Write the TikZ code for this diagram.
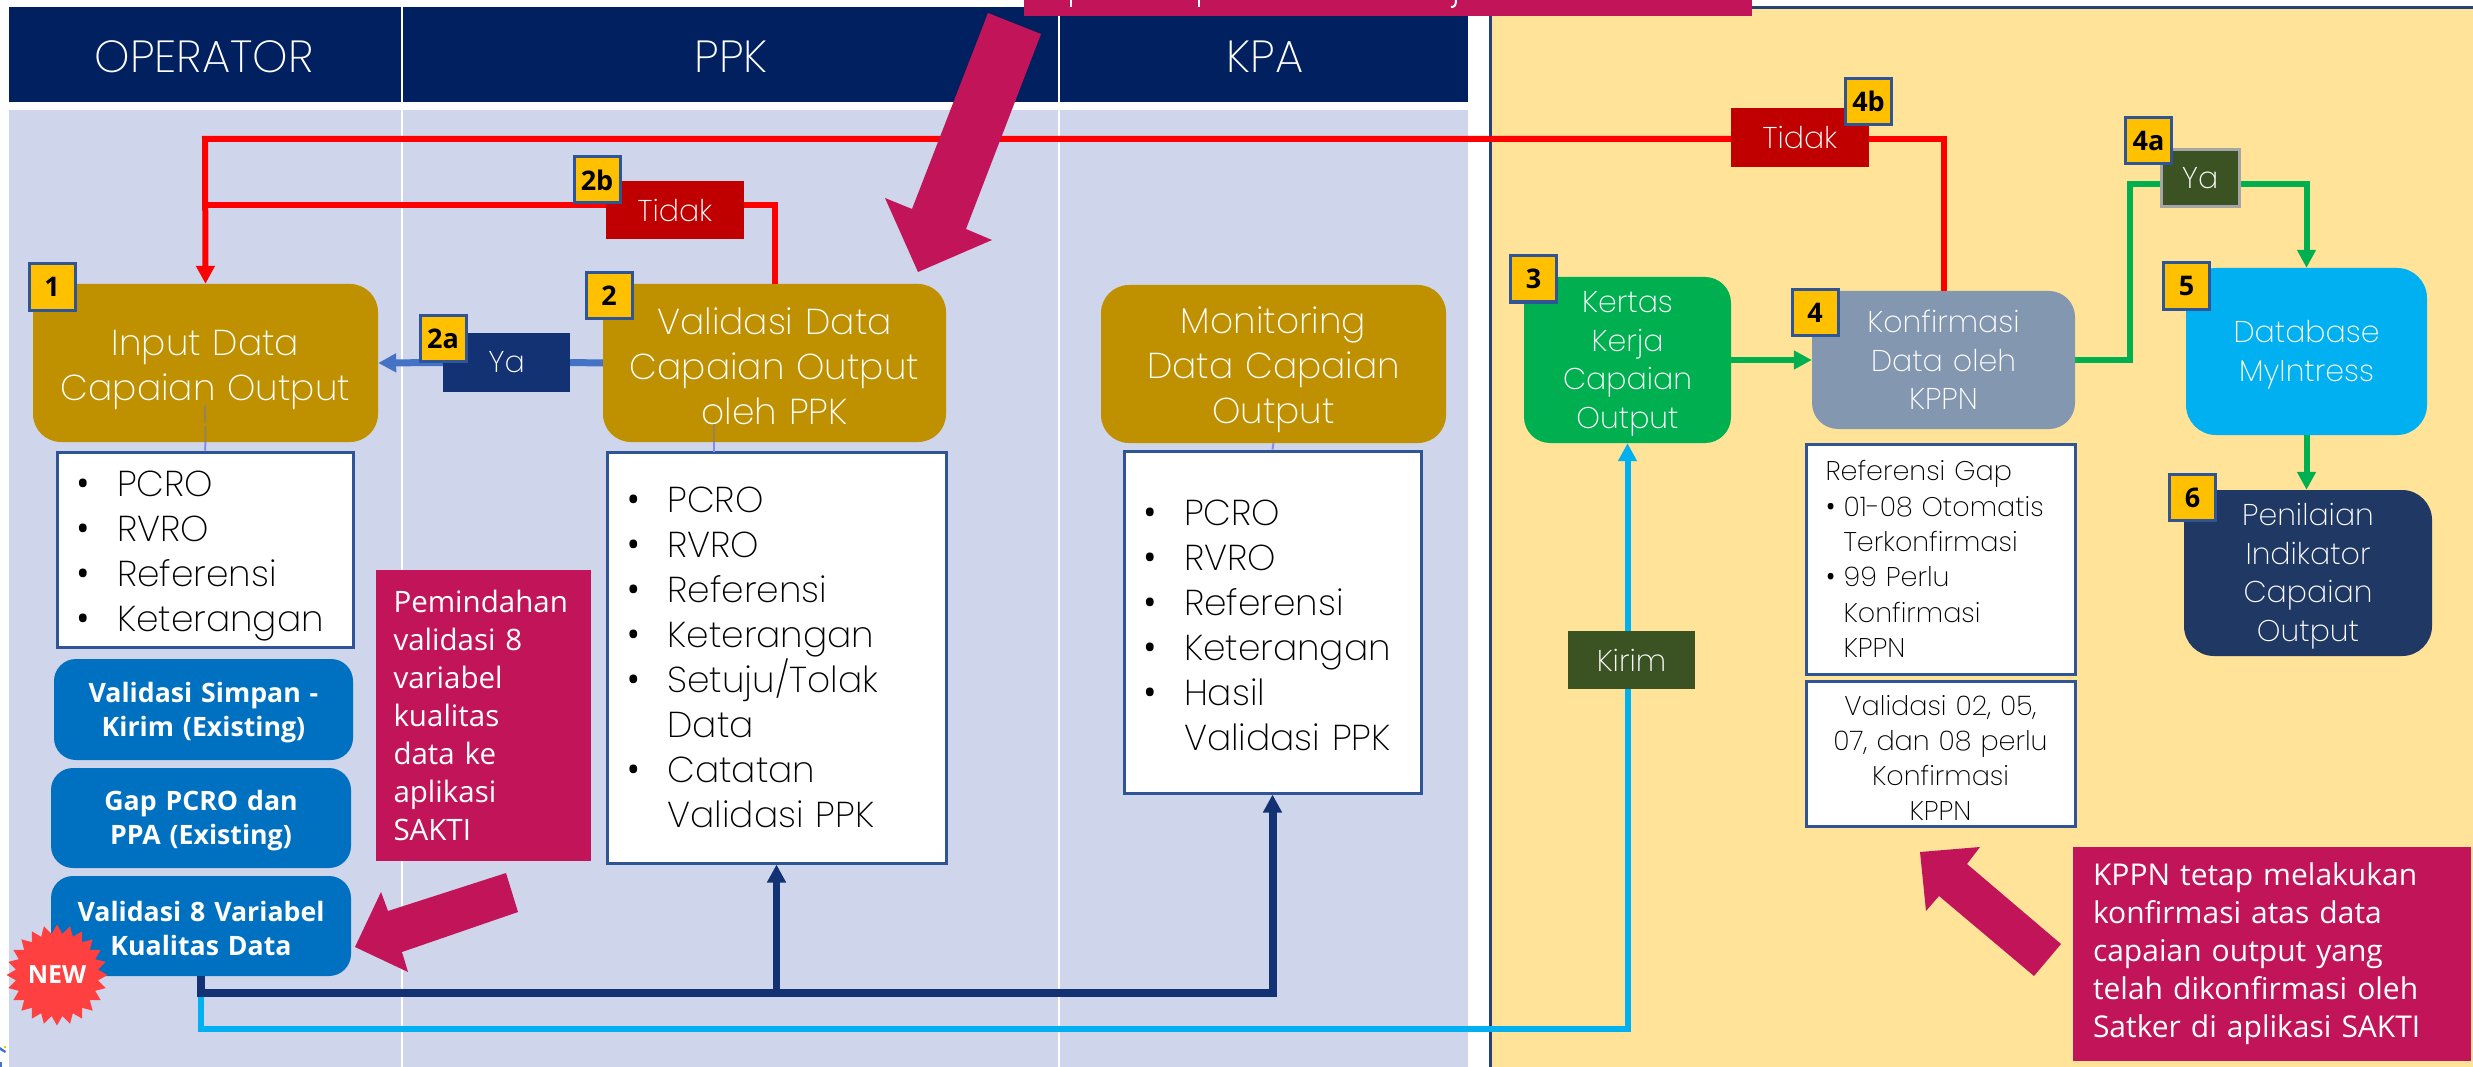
\documentclass[tikz,border=0pt]{standalone}
\usepackage{fontspec}
\usepackage{tikz}
\usetikzlibrary{arrows.meta,shapes.geometric}
\newfontfamily\lightfont{Poppins ExtraLight}
\newfontfamily\notefont{Open Sans}
\newcommand{\fsz}[2]{\fontsize{#1}{#2}\selectfont}
\newcommand{\litem}[2][41pt]{\makebox[#1][l]{\notefont\textbullet}#2}
\newcommand{\lcont}[2][41pt]{\hspace*{#1}#2}
\definecolor{headblue}{HTML}{002060}
\definecolor{lanepale}{HTML}{CFD5EA}
\definecolor{lanesand}{HTML}{FEE398}
\definecolor{goldfill}{HTML}{BF9000}
\definecolor{navyline}{HTML}{123274}
\definecolor{navyfill}{HTML}{1F3864}
\definecolor{notered}{HTML}{C21559}
\definecolor{framblue}{HTML}{2F5597}
\definecolor{cobalt}{HTML}{0070C0}
\definecolor{skyfill}{HTML}{00B0F0}
\definecolor{leaf}{HTML}{00B050}
\definecolor{moss}{HTML}{3B5323}
\definecolor{steel}{HTML}{8497B0}
\definecolor{amber}{HTML}{FFC000}
\definecolor{yaline}{HTML}{4472C4}
\definecolor{deepred}{HTML}{C00000}
\tikzset{
  flowbox/.style={rounded corners=28pt,inner sep=0pt,text=white,align=center,text width=330,font=\lightfont\fsz{36}{45}},
  smallflow/.style={flowbox,text width=200,font=\lightfont\fsz{30}{38.5}},
  dropped/.style={execute at begin node={\rule{0pt}{#1}}},
  listbox/.style={draw=framblue,line width=3pt,fill=white,inner sep=0pt,align=left,font=\lightfont\fsz{36}{45}},
  reflist/.style={listbox,font=\lightfont\fsz{27}{35.3}},
  keybox/.style={rounded corners=22pt,fill=cobalt,inner sep=0pt,text=white,align=center,text width=285,font=\notefont\bfseries\fsz{26.7}{34}},
  tagbox/.style={inner sep=0pt,text=white,font=\lightfont\fsz{30}{38}},
  badge/.style={draw=framblue,line width=3pt,fill=amber,inner sep=0pt,minimum width=46,minimum height=46,font=\notefont\bfseries\fsz{27}{30}},
  notebox/.style={fill=notered,inner sep=0pt,text=white,align=left,font=\notefont\fsz{29.5}{38}},
  headtext/.style={inner sep=0pt,text=white,font=\lightfont\fsz{45}{48}},
  redline/.style={draw=red,line width=6pt},
  greenline/.style={draw=leaf,line width=6pt},
  tip/.style={-{Triangle[length=18pt,width=18pt]}}
}
\begin{document}
\begin{tikzpicture}[x=1pt,y=-1pt]
  \useasboundingbox (0,0) rectangle (2473,1067);
  \fill[white] (0,0) rectangle (2473,1067);

  \fill[headblue] (9,7) rectangle (1468,102);
  \fill[lanepale] (9,110) rectangle (1468,1067);
  \fill[lanesand] (1490,8) rectangle (2473,1067);
  \draw[headblue!85!white,line width=3pt] (1490,1067) -- (1490,8) -- (2473,8);
  \draw[white,line width=2pt] (402,7) -- (402,102);
  \draw[white,line width=2pt] (402,110) -- (402,1067);
  \draw[white,line width=2pt] (1059,7) -- (1059,102);
  \draw[white,line width=2pt] (1059,110) -- (1059,1067);
  \fill[yaline] (0,1047) -- (6,1051) -- (5,1053) -- (0,1050) -- cycle;
  \fill[amber] (4,1046) rectangle (6,1048);
  \fill[yaline] (0,1062) rectangle (2,1067);
  \node[headtext] (operator) at (204,57) {OPERATOR};
  \node[headtext] (ppk) at (731,57) {PPK};
  \node[headtext] (kpa) at (1265,57) {KPA};

  % lajur kiri
  \node[flowbox,dropped=39pt,fill=goldfill,minimum width=345,minimum height=158] (input) at (205.5,363) {Input Data\\Capaian Output};
  \node[flowbox,dropped=33pt,fill=goldfill,minimum width=343,minimum height=158] (valid) at (774.5,363) {Validasi Data\\Capaian Output\\oleh PPK};
  \node[flowbox,dropped=39pt,fill=goldfill,minimum width=345,minimum height=158] (monitor) at (1273.5,364) {Monitoring\\Data Capaian\\Output};
  \node[listbox,dropped=39pt,minimum width=296,minimum height=195,text width=258] (listinput) at (205,549.5) {\litem{PCRO}\\\litem{RVRO}\\\litem{Referensi}\\\litem{Keterangan}};
  \node[listbox,minimum width=339,minimum height=411,text width=300] (listvalid) at (776.5,657.5) {\litem{PCRO}\\\litem{RVRO}\\\litem{Referensi}\\\litem{Keterangan}\\\litem{Setuju/Tolak}\\\lcont{Data}\\\litem{Catatan}\\\lcont{Validasi PPK}};
  \node[listbox,dropped=33pt,minimum width=297,minimum height=342,text width=259] (listmon) at (1272.5,622) {\litem{PCRO}\\\litem{RVRO}\\\litem{Referensi}\\\litem{Keterangan}\\\litem{Hasil}\\\lcont{Validasi PPK}};
  \draw[blue!35!lanepale,line width=2pt] (input.south) -- (listinput.north);
  \draw[blue!35!lanepale,line width=2pt] (714,442) -- (714,452);
  \draw[blue!35!lanepale,line width=2pt] (monitor.south) -- (listmon.north);
  \draw[gray!70!goldfill,line width=2pt,dash pattern=on 18pt off 3pt] (205,405) -- (input.south);
  \draw[gray!70!goldfill,line width=2pt] (714,424) -- (714,442);

  \node[keybox,dropped=26pt,minimum width=299,minimum height=101] (simpan) at (203.5,709.5) {Validasi Simpan -\\Kirim (Existing)};
  \node[keybox,dropped=26pt,minimum width=300,minimum height=100] (gap) at (201,818) {Gap PCRO dan\\PPA (Existing)};
  \node[keybox,dropped=26pt,minimum width=300,minimum height=100] (delapan) at (201,926) {Validasi 8 Variabel\\Kualitas Data};
  \node[fill=red!75!white,star,star points=24,star point ratio=1.22,minimum size=97,inner sep=0pt,text=white,font=\notefont\bfseries\fsz{25}{28}] (baru) at (57,975) {NEW};

  \node[tagbox,fill=navyline,minimum width=127,minimum height=59] (ya2) at (506.5,362.5) {Ya};
  \node[tagbox,fill=deepred,minimum width=138,minimum height=58] (tidak2) at (675,210) {Tidak};
  \node[tagbox,fill=deepred,minimum width=138,minimum height=59] (tidak4) at (1800,137.5) {Tidak};
  \node[tagbox,fill=moss,draw=gray!70,line width=3pt,minimum width=78,minimum height=57] (ya4) at (2200,178.5) {Ya};
  \node[tagbox,fill=moss,minimum width=127,minimum height=58] (kirim) at (1631.5,660) {Kirim};

  % lajur kanan
  \node[smallflow,dropped=29pt,fill=leaf,rounded corners=26pt,minimum width=207,minimum height=166] (kertas) at (1627.5,360) {Kertas\\Kerja\\Capaian\\Output};
  \node[smallflow,fill=steel,rounded corners=26pt,minimum width=263,minimum height=138] (konfirm) at (1943.5,360) {Konfirmasi\\Data oleh\\KPPN};
  \node[smallflow,dropped=29pt,fill=skyfill,rounded corners=30pt,minimum width=241,minimum height=167] (dbase) at (2306.5,351.5) {Database\\MyIntress};
  \node[smallflow,dropped=29pt,fill=navyfill,rounded corners=30pt,minimum width=248,minimum height=166] (nilai) at (2308,573) {Penilaian\\Indikator\\Capaian\\Output};
  \node[reflist,minimum width=269,minimum height=230,text width=230] (refgap) at (1940.5,559) {Referensi Gap\\\litem[18pt]{01-08 Otomatis}\\\lcont[18pt]{Terkonfirmasi}\\\litem[18pt]{99 Perlu}\\\lcont[18pt]{Konfirmasi}\\\lcont[18pt]{KPPN}};
  \node[reflist,dropped=29pt,align=center,minimum width=269,minimum height=145,text width=262] (refval) at (1940.5,753.5) {Validasi 02, 05,\\07, dan 08 perlu\\Konfirmasi\\KPPN};

  \coordinate (redtop) at (205,139);
  \coordinate (redlow) at (205,205);
  \coordinate (navylow) at (201,993);
  \coordinate (skylow) at (201,1029);
  \coordinate (greenup) at (2130,184);
  \draw[redline] (konfirm.north) |- (tidak4.east |- redtop);
  \draw[redline,tip] (tidak4.west |- redtop) -- (redtop) -- (input.north);
  \draw[redline] (valid.north) |- (tidak2.east |- redlow);
  \draw[redline] (tidak2.west |- redlow) -- (redlow);
  \draw[draw=yaline,line width=7pt,tip] (ya2.west) -- (input.east);
  \draw[draw=yaline,line width=7pt] (valid.west) -- (ya2.east);
  \draw[draw=skyfill,line width=6pt] (delapan.south) |- (skylow) -| (kirim.south -| kertas.south);
  \draw[draw=skyfill,line width=6pt,tip] (kirim.north -| kertas.south) -- (kertas.south);
  \draw[draw=navyline,line width=8pt,tip] (delapan.south) |- (navylow) -| (listmon.south);
  \draw[draw=navyline,line width=7pt,tip] (listvalid.south |- navylow) -- (listvalid.south);
  \draw[greenline,tip] (kertas.east) -- (konfirm.west);
  \draw[greenline] (konfirm.east) -| (greenup) -- (ya4.west |- greenup);
  \draw[greenline,tip] (ya4.east |- greenup) -| (dbase.north);
  \draw[greenline,tip] (dbase.south) -- (nilai.north -| dbase.south);

  \node[badge] (no1) at (52,287) {1};
  \node[badge] (no2) at (609,295.5) {2};
  \node[badge] (no2a) at (443,338.5) {2a};
  \node[badge] (no2b) at (597,180) {2b};
  \node[badge] (no3) at (1533.5,279) {3};
  \node[badge] (no4) at (1815,312.5) {4};
  \node[badge] (no4a) at (2148.5,140.5) {4a};
  \node[badge] (no4b) at (1868.5,101.5) {4b};
  \node[badge] (no5) at (2186.5,286) {5};
  \node[badge] (no6) at (2192.5,497.5) {6};

  \fill[notered] (988,13) -- (1041,34) -- (966,229) -- (992,240) -- (918,272) -- (885,198) -- (912,209) -- cycle;
  \fill[notered] (1024,0) rectangle (1752,16);
  \draw[white,line width=2pt] (1071,0) -- (1071,7);
  \draw[white,line width=2pt] (1199,0) -- (1199,7);
  \draw[white,line width=2pt] (1456,0) .. controls (1456,6) and (1454,7) .. (1451,7);

  \node[notebox,minimum width=215,minimum height=291,text width=180] (pindah) at (483.5,715.5) {Pemindahan\\validasi 8\\variabel\\kualitas\\data ke\\aplikasi\\SAKTI};
  \fill[notered] (355,947) -- (381,892) -- (388,911) -- (506,873) -- (518,912) -- (402,952) -- (408,972) -- cycle;
  \node[notebox,font=\notefont\fsz{30}{38},minimum width=398,minimum height=214,text width=358] (tetap) at (2272,954) {KPPN tetap melakukan\\konfirmasi atas data\\capaian output yang\\telah dikonfirmasi oleh\\Satker di aplikasi SAKTI};
  \fill[notered] (1920,852) -- (1980,847) -- (1967,864) -- (2061,944) -- (2034,976) -- (1939,896) -- (1926,911) -- cycle;
\end{tikzpicture}
\end{document}
